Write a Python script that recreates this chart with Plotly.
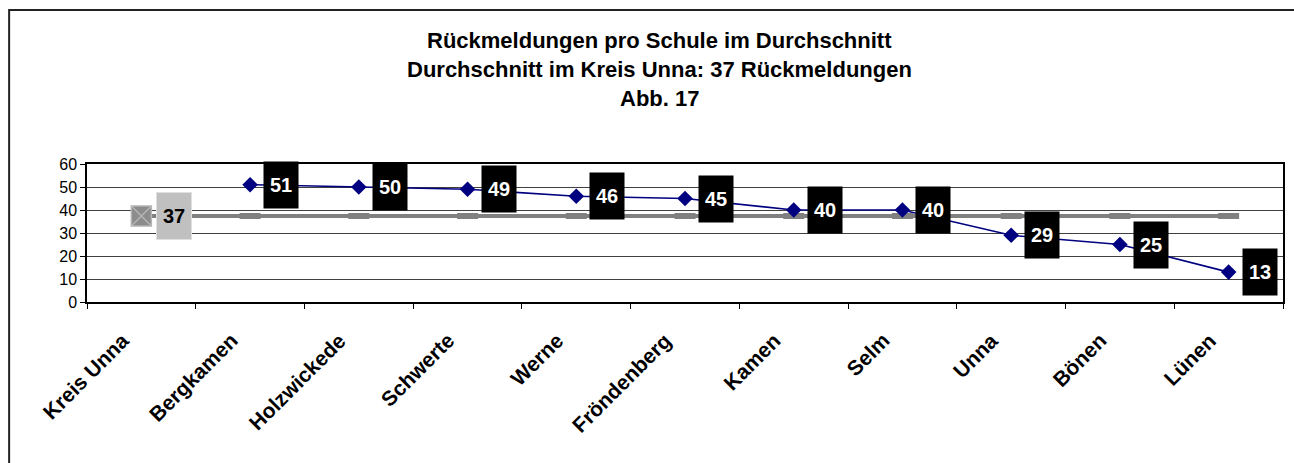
import plotly.graph_objects as go

categories = ["Kreis Unna", "Bergkamen", "Holzwickede", "Schwerte", "Werne",
              "Fröndenberg", "Kamen", "Selm", "Unna", "Bönen", "Lünen"]
schools = [None, 51, 50, 49, 46, 45, 40, 40, 29, 25, 13]
average_value = 37.4
average = [average_value] * len(categories)
title_lines = ["Rückmeldungen pro Schule im Durchschnitt",
               "Durchschnitt im Kreis Unna: 37 Rückmeldungen",
               "Abb. 17"]
y_ticks = [0, 10, 20, 30, 40, 50, 60]

W, H = 1294, 463
L, R, T, B = 87, 1285, 164, 302
FONT = "Liberation Sans, Arial, sans-serif"

fig = go.Figure()

# average line
fig.add_trace(go.Scatter(x=categories, y=average, mode="lines",
                         line=dict(color="#808080", width=4),
                         hoverinfo="skip", showlegend=False))
fig.add_trace(go.Scatter(x=categories[1:], y=average[1:], mode="markers",
                         marker=dict(symbol="line-ew", size=15,
                                     line=dict(color="#808080", width=6)),
                         showlegend=False))
fig.add_trace(go.Scatter(x=categories[:1], y=average[:1], mode="markers",
                         marker=dict(symbol="square-x", size=20, color="#8c8c8c",
                                     line=dict(color="#b4b4b4", width=1.5)),
                         showlegend=False))

# schools line
fig.add_trace(go.Scatter(x=categories, y=schools, mode="lines+markers",
                         line=dict(color="#000080", width=1.6),
                         marker=dict(symbol="diamond", size=12, color="#000080"),
                         connectgaps=False, showlegend=False))

annotations = []
for c, v in zip(categories, schools):
    if v is None:
        continue
    annotations.append(dict(x=c, y=v, xref="x", yref="y", text=f"<b>{round(v)}</b>",
                            showarrow=False, xshift=31, width=34, height=46,
                            bgcolor="#000000", borderpad=0,
                            font=dict(family=FONT, size=20, color="#ffffff")))
annotations.append(dict(x=categories[0], y=average[0], xref="x", yref="y",
                        text=f"<b>{round(average[0])}</b>", showarrow=False,
                        xshift=33, width=34, height=46, bgcolor="#c0c0c0",
                        bordercolor="#e0e0e0", borderwidth=1, borderpad=0,
                        font=dict(family=FONT, size=20, color="#000000")))

# rotated category labels
for c in categories:
    annotations.append(dict(x=c, y=0, xref="x", yref="y", text=f"<b>{c}</b>",
                            showarrow=False, textangle=-45,
                            xanchor="right", yanchor="top", xshift=-6, yshift=-24,
                            font=dict(family=FONT, size=21, color="#000000")))

pw, ph = R - L, B - T
for line, py in zip(title_lines, [40, 69, 98]):
    annotations.append(dict(x=(660 - L) / pw, y=(B - py) / ph,
                            xref="paper", yref="paper",
                            text=f"<b>{line}</b>", showarrow=False,
                            xanchor="center", yanchor="middle",
                            font=dict(family=FONT, size=22, color="#000000")))

shapes = [dict(type="rect", xref="paper", yref="paper",
               x0=(9 - L) / pw, x1=(1320 - L) / pw,
               y0=(B - 490) / ph, y1=(B - 10) / ph,
               line=dict(color="#222222", width=2), fillcolor="rgba(0,0,0,0)",
               layer="below")]

fig.update_layout(
    width=W, height=H,
    margin=dict(l=L, r=W - R, t=T, b=H - B),
    paper_bgcolor="white", plot_bgcolor="white",
    annotations=annotations, shapes=shapes,
    font=dict(family=FONT, color="#000000"),
    xaxis=dict(type="category", range=[-0.5, 10.5], tickson="boundaries",
               ticks="outside", ticklen=5, tickcolor="#000", showgrid=False,
               showline=True, linecolor="#000", linewidth=1.5, mirror=True,
               showticklabels=False, fixedrange=True),
    yaxis=dict(range=[0, 60], tickvals=y_ticks, ticks="outside", ticklen=5,
               tickcolor="#000", showgrid=True, gridcolor="#404040", gridwidth=1,
               showline=True, linecolor="#000", linewidth=1.5, mirror=True,
               zeroline=False, tickfont=dict(family=FONT, size=16, color="#000"),
               fixedrange=True),
)

fig.write_html("out.html",
               config={"displayModeBar": False},
               post_script="document.body.style.margin='0';"
                           "document.body.style.overflow='hidden';")
